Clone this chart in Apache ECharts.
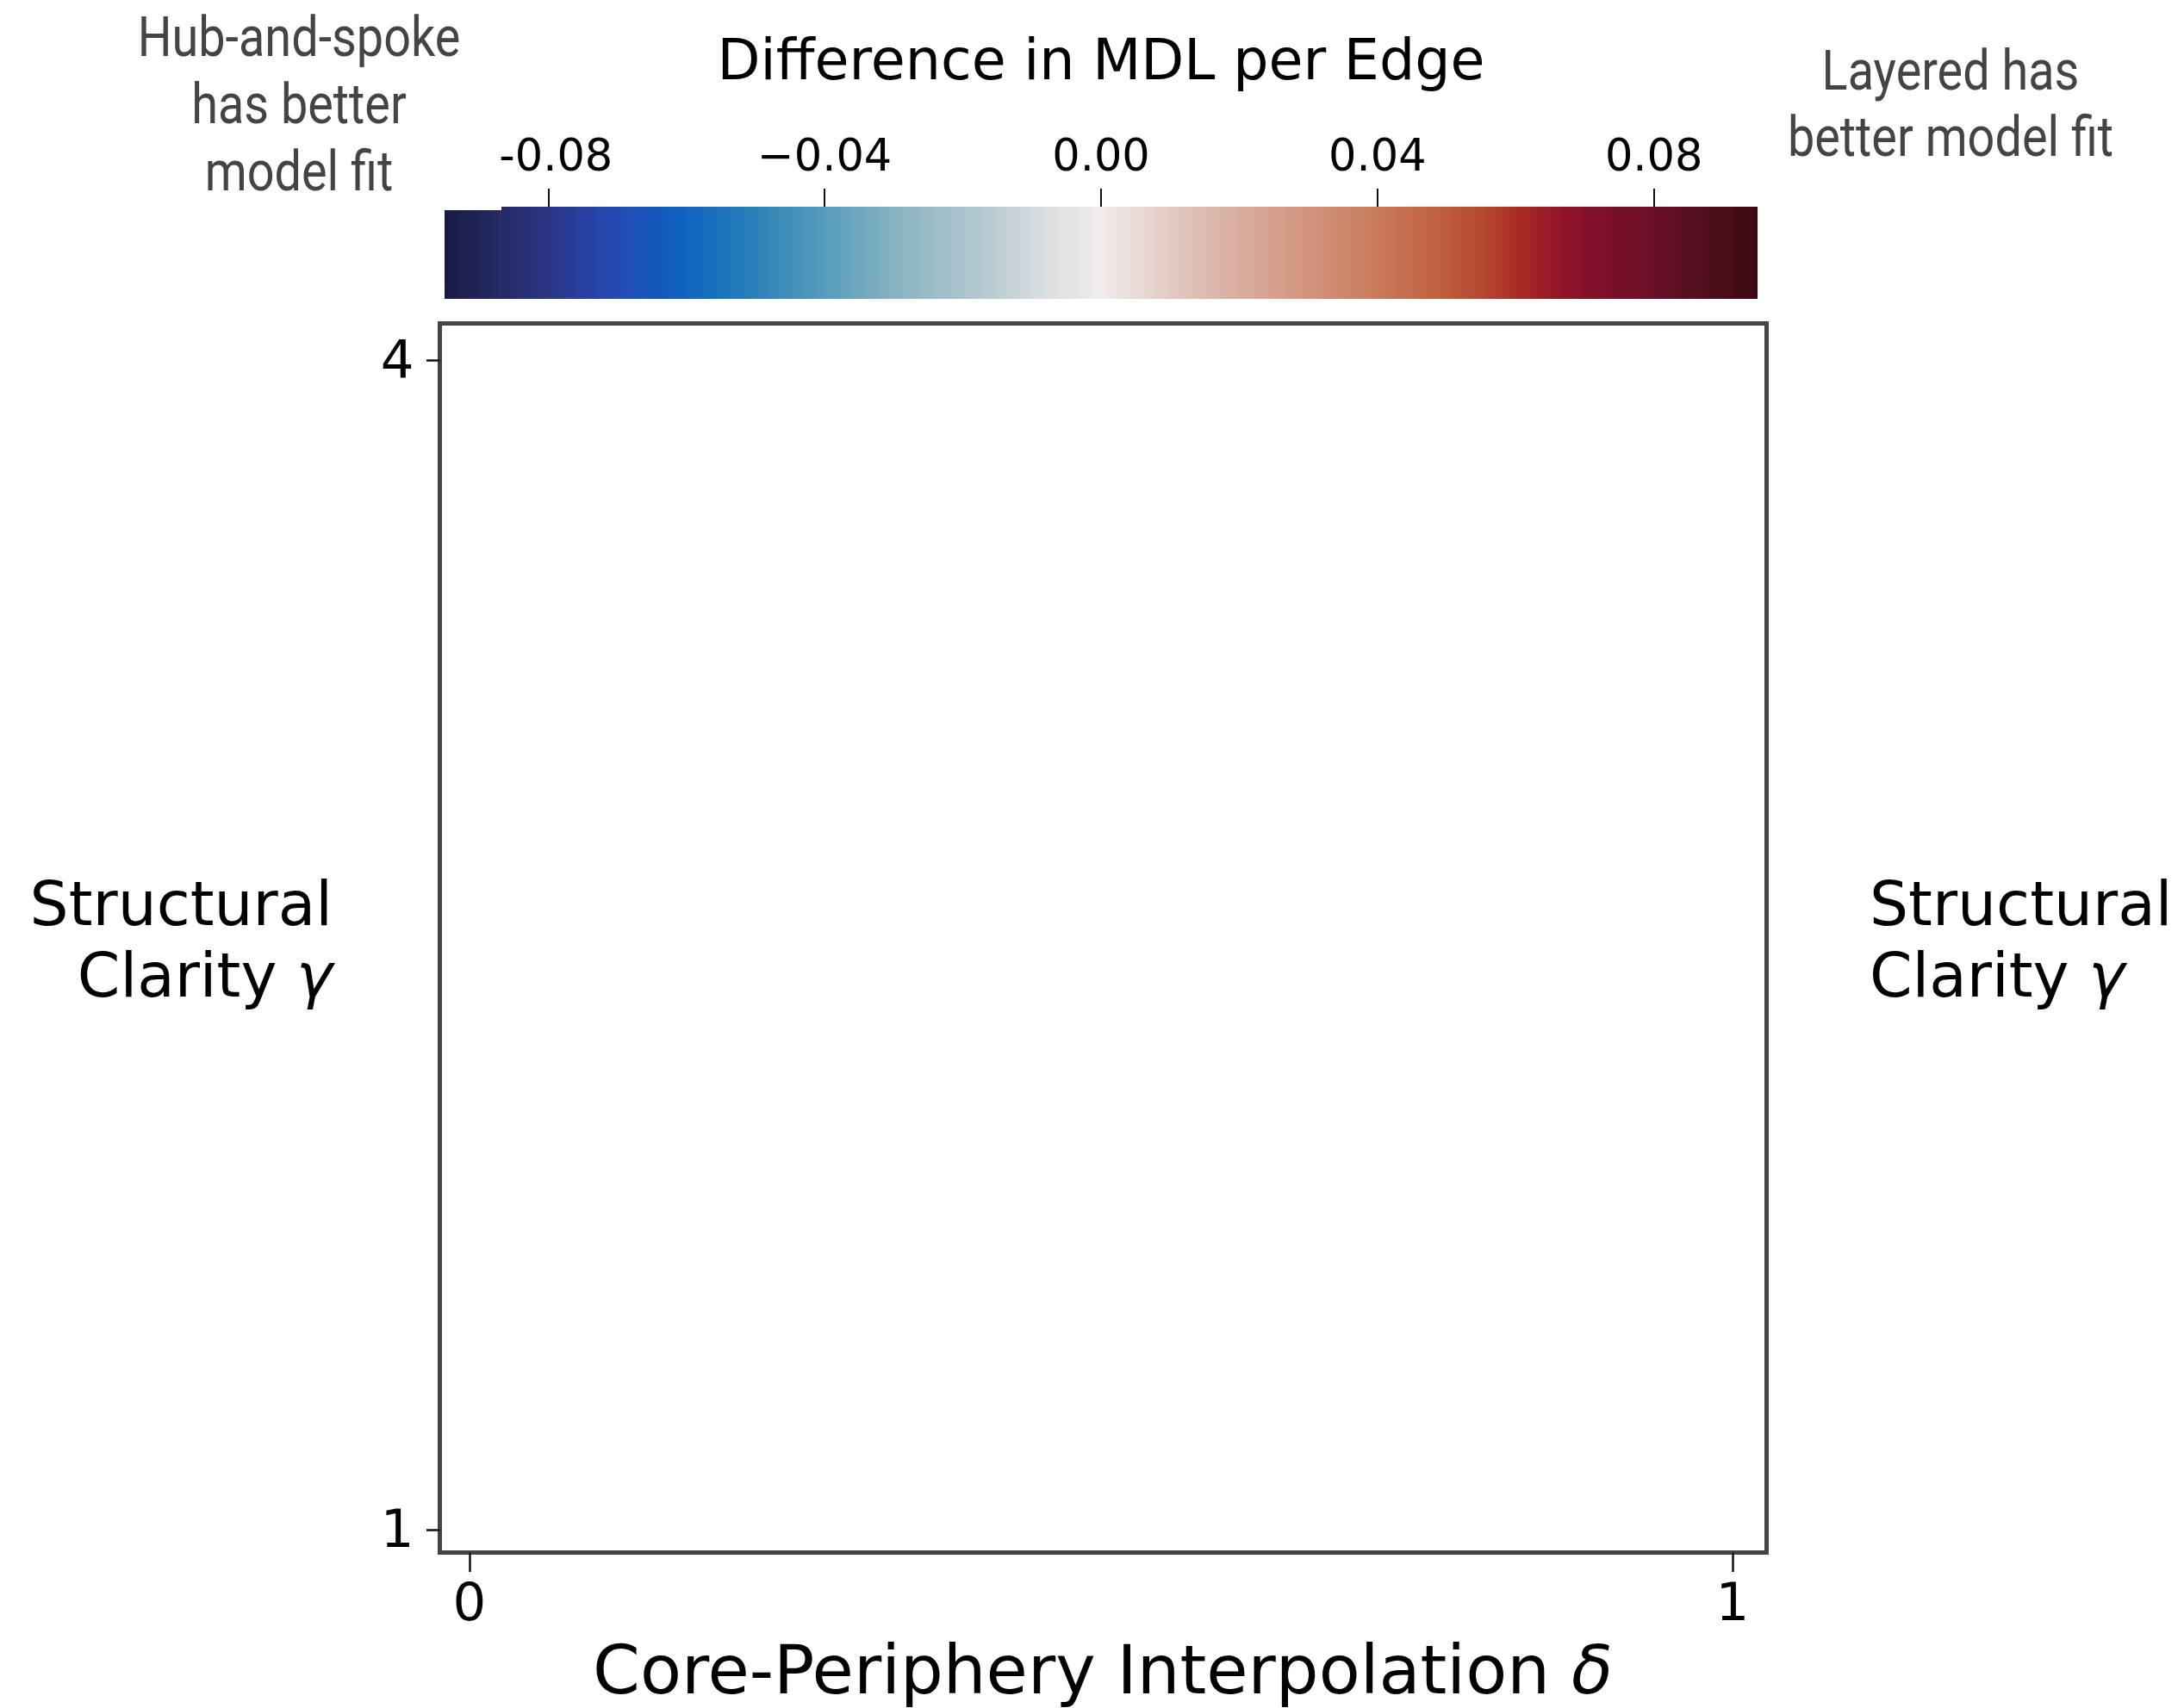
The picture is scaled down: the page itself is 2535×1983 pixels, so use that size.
<!DOCTYPE html>
<html>
<head>
<meta charset="utf-8">
<script src="https://cdn.jsdelivr.net/npm/echarts@6/dist/echarts.min.js"></script>
<style>
  html, body { margin: 0; padding: 0; background: #ffffff; }
  #chart { width: 2535px; height: 1983px; }
</style>
</head>
<body>
<div id="chart"></div>
<script>
// Colour bar: difference in MDL per edge (layered minus hub-and-spoke)
const cbRange = [-0.095, 0.095];
const cbTickValues = [-0.08, -0.04, 0, 0.04, 0.08];
const cbTickLabels = ['-0.08', '\u22120.04', '0.00', '0.04', '0.08'];

// Diverging colour map stops (value -> colour)
const cmapValues = [-0.095, -0.087, -0.080, -0.0705, -0.0615, -0.055, -0.0466, -0.040, -0.030,
                    -0.016, -0.0088, 0.0, 0.0077, 0.0163, 0.027, 0.040, 0.0486, 0.0557,
                    0.060, 0.0665, 0.0736, 0.080, 0.0877, 0.095];
const cmapColors = ['#181c43', '#252a66', '#2b3585', '#2549b4', '#0e5fc0', '#1a74bc', '#3a8ab8',
                    '#569dbc', '#87b2c1', '#b9cbd2', '#d8dde0', '#f1eceb', '#e6d2cc', '#dcb7ab',
                    '#d49b87', '#c97a5b', '#c0613f', '#b5462e', '#ab2d24', '#931329', '#7b0f2b',
                    '#6a0f29', '#4f0f1d', '#3c0912'];

// Panel axes: core-periphery interpolation delta (x) and structural clarity gamma (y)
const deltaRange = [-0.0235, 1.027];
const deltaTicks = [0, 1];
const deltaTickLabels = ['0', '1'];
const gammaRange = [0.9415, 4.094];
const gammaTicks = [1, 4];
const gammaTickLabels = ['1', '4'];

// MDL difference cells over (delta, gamma); this panel holds none
const mdlCells = [];

function lookupIndex(values, v) {
  for (let i = 0; i < values.length; i++) {
    if (Math.abs(values[i] - v) < 1e-9) return i;
  }
  return -1;
}
function lookupLabel(values, labels, v) {
  const i = lookupIndex(values, v);
  return i < 0 ? '' : labels[i];
}

const FONT = 'DejaVu Sans';

const chart = echarts.init(document.getElementById('chart'), null, { renderer: 'canvas' });

const option = {
  backgroundColor: '#ffffff',
  animation: false,
  grid: [
    {
      left: 510.5, top: 375.5, width: 1540, height: 1427,
      show: true, borderColor: '#444444', borderWidth: 5, backgroundColor: 'transparent'
    },
    { left: 516, top: 240, width: 1524, height: 107, show: false }
  ],
  xAxis: [
    {
      gridIndex: 0, type: 'value', min: deltaRange[0], max: deltaRange[1],
      axisLine: { show: false, onZero: false },
      splitLine: { show: false },
      axisTick: { show: true, customValues: deltaTicks, length: 22.5, lineStyle: { color: '#111', width: 2.5 } },
      axisLabel: {
        customValues: deltaTicks,
        formatter: v => lookupLabel(deltaTicks, deltaTickLabels, v),
        fontFamily: FONT, fontSize: 61, color: '#000', margin: 32
      }
    },
    {
      gridIndex: 1, type: 'value', position: 'top', min: cbRange[0], max: cbRange[1],
      axisLine: { show: false, onZero: false },
      splitLine: { show: false },
      axisTick: { show: true, customValues: cbTickValues, length: 21, lineStyle: { color: '#111', width: 2 } },
      axisLabel: {
        customValues: cbTickValues,
        // the hyphenated first label sits a little right of its tick
        formatter: v => {
          const i = lookupIndex(cbTickValues, v);
          if (i < 0) return '';
          return i === 0 ? '{shift|' + cbTickLabels[i] + '}' : cbTickLabels[i];
        },
        rich: { shift: { fontFamily: FONT, fontSize: 51, color: '#000', padding: [0, 0, 0, 18] } },
        fontFamily: FONT, fontSize: 51, color: '#000', margin: 30
      }
    }
  ],
  yAxis: [
    {
      gridIndex: 0, type: 'value', min: gammaRange[0], max: gammaRange[1],
      axisLine: { show: false, onZero: false },
      splitLine: { show: false },
      axisTick: { show: true, customValues: gammaTicks, length: 15.5, lineStyle: { color: '#111', width: 2.5 } },
      axisLabel: {
        customValues: gammaTicks,
        formatter: v => '{t|' + lookupLabel(gammaTicks, gammaTickLabels, v) + '}',
        rich: { t: { fontFamily: FONT, fontSize: 61, color: '#000', padding: [8, 0, 0, 0] } },
        fontFamily: FONT, fontSize: 61, color: '#000', margin: 30
      }
    },
    { gridIndex: 1, type: 'value', min: 0, max: 1, show: false }
  ],
  series: [
    {
      name: 'MDL difference',
      type: 'scatter',
      xAxisIndex: 0, yAxisIndex: 0,
      data: mdlCells,
      silent: true
    },
    {
      name: 'colour bar',
      type: 'custom',
      xAxisIndex: 1, yAxisIndex: 1,
      silent: true,
      data: cmapValues.map((v, i) => [v, i]),
      renderItem: function (params, api) {
        const i = params.dataIndex;
        if (i >= cmapValues.length - 1) return null;
        const p0 = api.coord([cmapValues[i], 1]);
        const p1 = api.coord([cmapValues[i + 1], 0]);
        const overlap = i < cmapValues.length - 2 ? 0.6 : 0;
        return {
          type: 'rect',
          shape: { x: p0[0], y: p0[1], width: p1[0] - p0[0] + overlap, height: p1[1] - p0[1] },
          style: {
            fill: new echarts.graphic.LinearGradient(0, 0, 1, 0, [
              { offset: 0, color: cmapColors[i] },
              { offset: 1, color: cmapColors[i + 1] }
            ])
          }
        };
      }
    }
  ],
  graphic: [
    // small step along the top of the colour bar's darkest end
    { type: 'rect', z: 100, shape: { x: 515, y: 238, width: 67, height: 6 }, style: { fill: '#ffffff' } },
    {
      type: 'text', x: 1278, y: 75,
      style: { text: 'Difference in MDL per Edge', font: '65px "DejaVu Sans"', fill: '#000',
               align: 'center', verticalAlign: 'middle' }
    },
    {
      type: 'text', x: 347, y: 127, scaleX: 0.9, scaleY: 1.04,
      style: { text: 'Hub-and-spoke\nhas better\nmodel fit', font: '62px Roboto', fill: '#444444',
               align: 'center', verticalAlign: 'middle', lineHeight: 75 }
    },
    {
      type: 'text', x: 2264, y: 126, scaleX: 0.9, scaleY: 1.04,
      style: { text: 'Layered has\nbetter model fit', font: '62px Roboto', fill: '#444444',
               align: 'center', verticalAlign: 'middle', lineHeight: 74 }
    },
    {
      type: 'text', x: 386, y: 1097,
      style: {
        text: 'Structural\nClarity {g|\u03b3}', font: '71px "DejaVu Sans"', fill: '#000',
        align: 'right', verticalAlign: 'middle', lineHeight: 83,
        rich: { g: { fontStyle: 'italic', fontFamily: FONT, fontSize: 71, lineHeight: 83 } }
      }
    },
    {
      type: 'text', x: 2170, y: 1097,
      style: {
        text: 'Structural\nClarity {g|\u03b3}', font: '71px "DejaVu Sans"', fill: '#000',
        align: 'left', verticalAlign: 'middle', lineHeight: 83,
        rich: { g: { fontStyle: 'italic', fontFamily: FONT, fontSize: 71, lineHeight: 83 } }
      }
    },
    {
      type: 'text', x: 1280, y: 1946,
      style: {
        text: 'Core-Periphery Interpolation {d|\u03b4}', font: '78.5px "DejaVu Sans"', fill: '#000',
        align: 'center', verticalAlign: 'middle',
        rich: { d: { fontStyle: 'italic', fontFamily: FONT, fontSize: 78.5 } }
      }
    }
  ]
};

chart.setOption(option);
</script>
</body>
</html>
